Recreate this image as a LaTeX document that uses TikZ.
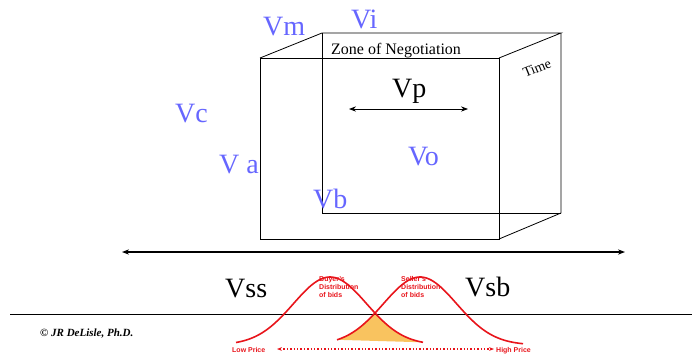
\documentclass[tikz,border=0pt]{standalone}
\usepackage{fontspec}
\setmainfont{Liberation Serif}
\setsansfont{Liberation Sans}
\usetikzlibrary{arrows.meta}

\definecolor{vblue}{HTML}{6666FF}
\definecolor{bidred}{HTML}{E8141B}
\definecolor{overlap}{HTML}{F9C35F}

\tikzset{
    vlabel/.style={anchor=base west, inner sep=0pt, text=vblue, font=\fontsize{28}{30}\selectfont},
    vblack/.style={anchor=base west, inner sep=0pt, font=\fontsize{28}{30}\selectfont},
    bidtext/.style={anchor=base west, inner sep=0pt, text=bidred, align=left,
        font=\sffamily\bfseries\fontsize{7}{8}\selectfont},
    bidcurve/.style={bidred, line width=1.6pt}
}

\begin{document}
\begin{tikzpicture}[x=1pt, y=-1pt]
        \useasboundingbox (0,0) rectangle (692,354);

        % front face
        \coordinate (A) at (260,239);
        \coordinate (B) at (260,58);
        \coordinate (C) at (499,58);
        \coordinate (D) at (499,239);
        % back face
        \coordinate (E) at (322,213);
        \coordinate (F) at (322,33);
        \coordinate (G) at (561,33);
        \coordinate (H) at (561,213);

        \draw[thick] (A) -- (B) -- (C) -- (D) -- cycle;
        \draw[thick] (B) -- (F) -- (G) -- (C);
        \draw[thick] (D) -- (H) -- (G);
        \draw[thick] (F) -- (E) -- (H);

        \node[anchor=base west, inner sep=0pt, font=\fontsize{16}{18}\selectfont] (zone) at (331,54) {Zone of Negotiation};
        \node[rotate=22, inner sep=0pt, font=\fontsize{14}{16}\selectfont] (time) at (537,68) {Time};

        \node[vblack] (vp) at (392,97) {Vp};
        \coordinate (pl) at (349,109);
        \coordinate (pr) at (468,109);
        \draw[thick, {Stealth[length=7pt]}-{Stealth[length=7pt]}] (pl) -- (pr);

        \node[vlabel] (vm) at (263,35) {Vm};
        \node[vlabel] (vi) at (351,28) {Vi};
        \node[vlabel] (vc) at (175,122) {Vc};
        \node[vlabel] (va) at (219,173) {V a};
        \node[vlabel] (vb) at (313,208) {Vb};
        \node[vlabel] (vo) at (408,165) {Vo};

        % price axis
        \coordinate (ql) at (122,252);
        \coordinate (qr) at (625,252);
        \draw[line width=1.6pt, {Stealth[length=7pt]}-{Stealth[length=7pt]}] (ql) -- (qr);

        \node[vblack] (vss) at (225,297) {Vss};
        \node[vblack] (vsb) at (465,296) {Vsb};

        % overlap of the bids
        \fill[overlap] plot[domain=337:375, samples=30] (\x, {345-68*exp(-(\x-420)^2/2682)})
            -- plot[domain=375:423, samples=30] (\x, {345-68*exp(-(\x-330)^2/2682)}) -- cycle;

        \draw[thick] (10,314) -- (692,314);

        \draw[bidcurve] plot[domain=236:423, samples=80, smooth] (\x, {345-68*exp(-(\x-330)^2/2682)});
        \draw[bidcurve] plot[domain=337:523, samples=80, smooth] (\x, {345-68*exp(-(\x-420)^2/2682)});

        \node[bidtext] (buyer) at (319,297) {Buyer's\\Distribution\\of bids};
        \node[bidtext] (seller) at (401,297) {Seller's\\Distribution\\of bids};

        \node[bidtext] (low) at (232,352) {Low Price};
        \node[bidtext] (high) at (496,352) {High Price};
        \coordinate (dl) at (277,349);
        \coordinate (dr) at (494,349);
        \draw[bidred, line width=1.4pt, dotted, {Stealth[length=5pt, line cap=butt]}-{Stealth[length=5pt]}] (dl) -- (dr);

        \node[anchor=base west, inner sep=0pt, font=\bfseries\itshape\fontsize{11}{13}\selectfont] (copy) at (40,336) {\textcopyright\ JR DeLisle, Ph.D.};
    \end{tikzpicture}
\end{document}
